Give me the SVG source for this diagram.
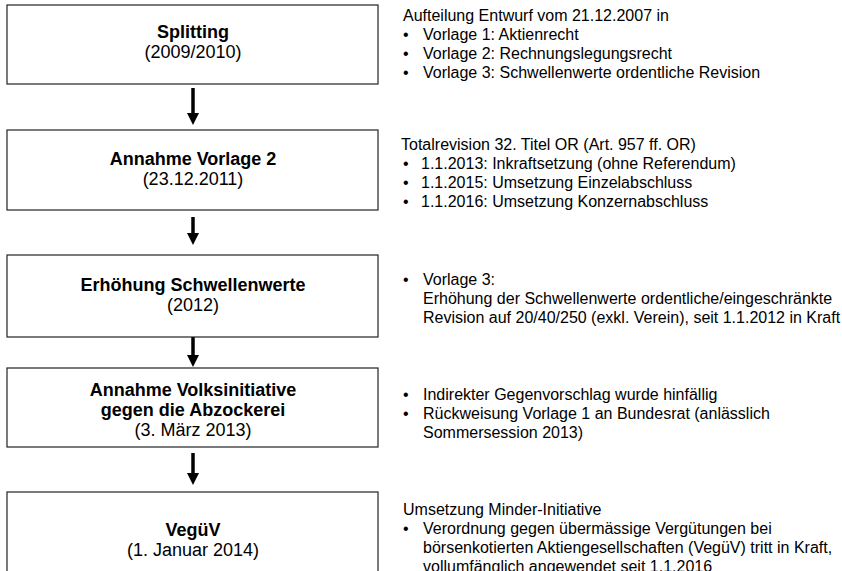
<svg xmlns="http://www.w3.org/2000/svg" width="842" height="571" viewBox="0 0 842 571">
<defs>
<style>
.box{fill:#fff;stroke:#222;stroke-width:1.2}
.t{font-family:"Liberation Sans",Arial,sans-serif;fill:#000;text-anchor:middle}
.b{font-weight:bold;font-size:18px}
.r{font-size:18px}
.d{font-family:"Liberation Sans",Arial,sans-serif;font-size:16px;fill:#000}
.sh{stroke:#000;stroke-width:3.5}
</style>
</defs>
<rect width="842" height="571" fill="#fff"/>
<g id="connectors">
<line class="sh" x1="193" y1="88" x2="193" y2="113"/><path d="M187,113 L199,113 L193,125 Z"/>
<line class="sh" x1="193" y1="217" x2="193" y2="233"/><path d="M187,233 L199,233 L193,245 Z"/>
<line class="sh" x1="193" y1="337" x2="193" y2="355"/><path d="M187,355 L199,355 L193,367 Z"/>
<line class="sh" x1="193" y1="453" x2="193" y2="473"/><path d="M187,473 L199,473 L193,485 Z"/>
</g>
<g id="n1">
<rect class="box" x="7" y="5" width="371" height="79"/>
<text class="t b" x="193" y="38">Splitting</text>
<text class="t r" x="193" y="58">(2009/2010)</text>
</g>
<g id="n2">
<rect class="box" x="7" y="130" width="371" height="80"/>
<text class="t b" x="193" y="165">Annahme Vorlage 2</text>
<text class="t r" x="193" y="185">(23.12.2011)</text>
</g>
<g id="n3">
<rect class="box" x="7" y="255" width="371" height="82"/>
<text class="t b" x="193" y="291">Erhöhung Schwellenwerte</text>
<text class="t r" x="193" y="311">(2012)</text>
</g>
<g id="n4">
<rect class="box" x="7" y="368" width="371" height="79"/>
<text class="t b" x="193" y="396">Annahme Volksinitiative</text>
<text class="t b" x="193" y="416">gegen die Abzockerei</text>
<text class="t r" x="193" y="436">(3. März 2013)</text>
</g>
<g id="n5">
<rect class="box" x="7" y="492" width="371" height="100"/>
<text class="t b" x="193" y="536">VegüV</text>
<text class="t r" x="193" y="556">(1. Januar 2014)</text>
</g>
<g id="notes">
<text class="d" x="403" y="21">Aufteilung Entwurf vom 21.12.2007 in</text>
<text class="d" x="403" y="40">•</text><text class="d" x="423" y="40">Vorlage 1: Aktienrecht</text>
<text class="d" x="403" y="59">•</text><text class="d" x="423" y="59">Vorlage 2: Rechnungslegungsrecht</text>
<text class="d" x="403" y="78">•</text><text class="d" x="423" y="78">Vorlage 3: Schwellenwerte ordentliche Revision</text>

<text class="d" x="401" y="150">Totalrevision 32. Titel OR (Art. 957 ff. OR)</text>
<text class="d" x="403" y="169">•</text><text class="d" x="421" y="169">1.1.2013: Inkraftsetzung (ohne Referendum)</text>
<text class="d" x="403" y="188">•</text><text class="d" x="421" y="188">1.1.2015: Umsetzung Einzelabschluss</text>
<text class="d" x="403" y="207">•</text><text class="d" x="421" y="207">1.1.2016: Umsetzung Konzernabschluss</text>

<text class="d" x="403" y="285">•</text><text class="d" x="423" y="285">Vorlage 3:</text>
<text class="d" x="423" y="304">Erhöhung der Schwellenwerte ordentliche/eingeschränkte</text>
<text class="d" x="423" y="323">Revision auf 20/40/250 (exkl. Verein), seit 1.1.2012 in Kraft</text>

<text class="d" x="403" y="400">•</text><text class="d" x="423" y="400">Indirekter Gegenvorschlag wurde hinfällig</text>
<text class="d" x="403" y="419">•</text><text class="d" x="423" y="419">Rückweisung Vorlage 1 an Bundesrat (anlässlich</text>
<text class="d" x="423" y="438">Sommersession 2013)</text>

<text class="d" x="403" y="515">Umsetzung Minder-Initiative</text>
<text class="d" x="403" y="534">•</text><text class="d" x="423" y="534">Verordnung gegen übermässige Vergütungen bei</text>
<text class="d" x="423" y="553">börsenkotierten Aktiengesellschaften (VegüV) tritt in Kraft,</text>
<text class="d" x="423" y="572">vollumfänglich angewendet seit 1.1.2016</text>
</g>
</svg>
